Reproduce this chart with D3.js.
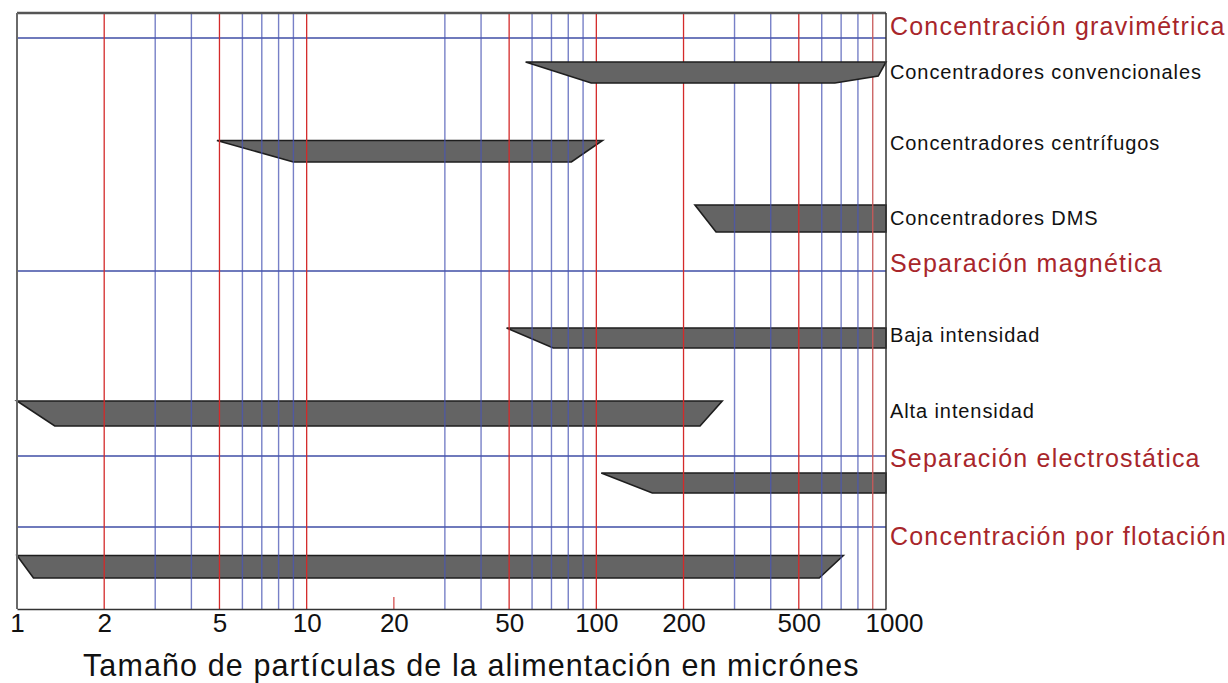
<!DOCTYPE html>
<html>
<head>
<meta charset="utf-8">
<script src="https://cdn.jsdelivr.net/npm/d3@7"></script>
<style>
  body { margin: 0; background: #fff; }
  svg { display: block; font-family: "Liberation Sans", Arial, sans-serif; }
</style>
</head>
<body>
<div id="chart"></div>
<script>
// axis values, in microns
const tickValues = [1, 2, 5, 10, 20, 50, 100, 200, 500, 1000];
const redLines = [2, 5, 10, 50, 100, 200, 500, 900];
const blueLines = [3, 4, 6, 7, 8, 9, 30, 40, 60, 70, 80, 90, 300, 400, 600, 700, 800];
const stubLines = [20];

// process groups (red headings)
const groupNames = [
  'Concentración gravimétrica',
  'Separación magnética',
  'Separación electrostática',
  'Concentración por flotación'
];

// equipment ranges: top edge and bottom edge of each band, in microns
const barNames = [
  'Concentradores convencionales',
  'Concentradores centrífugos',
  'Concentradores DMS',
  'Baja intensidad',
  'Alta intensidad',
  '',
  ''
];
const barTopFrom = [57, 4.9, 219, 49, 1, 104, 1];
const barTopTo = [1000, 105, 1000, 1000, 272, 1000, 712];
const barBottomFrom = [96, 9.0, 259, 71, 1.35, 156, 1.14];
const barBottomTo = [666, 82, 1000, 1000, 228, 1000, 588];
const barKnee = [940, null, null, null, null, null, null];

const xTitle = 'Tamaño de partículas de la alimentación en micrónes';

// layout
const width = 1228, height = 683;
const marginLeft = 17, marginRight = 342, marginTop = 13, marginBottom = 74;
const plotRight = width - marginRight, plotBottom = height - marginBottom;

// vertical layout in "slot" units (16 slots over the plot height)
const groupLineSlot = [0.671, 6.926, 11.893, 13.799];
const groupTextSlot = [0.59, 6.95, 12.19, 14.28];
const barTopSlot = [1.315, 3.423, 5.154, 8.456, 10.416, 12.349, 14.564];
const barBottomSlot = [1.879, 4.0, 5.879, 8.993, 11.087, 12.886, 15.168];
const labelSlot = [1.772, 3.678, 5.691, 8.832, 10.872, 0, 0];
const kneeFrac = 0.67;

const x = d3.scaleLog([1, 1000], [marginLeft, plotRight]);
const y = d3.scaleLinear([0, 16], [marginTop, plotBottom]);

const svg = d3.select('#chart')
  .append('svg')
  .attr('width', width)
  .attr('height', height);

const bars = barNames.map((name, i) => ({
  name,
  pts: [
    [x(barTopFrom[i]), y(barTopSlot[i])],
    [x(barTopTo[i]), y(barTopSlot[i])],
    ...(barKnee[i] ? [[x(barKnee[i]), y(barTopSlot[i] + (barBottomSlot[i] - barTopSlot[i]) * kneeFrac)]] : []),
    [x(barBottomTo[i]), y(barBottomSlot[i])],
    [x(barBottomFrom[i]), y(barBottomSlot[i])]
  ],
  label: labelSlot[i]
}));

const drawBars = (g, data) => g.selectAll('polygon')
  .data(data)
  .join('polygon')
  .attr('points', d => d.pts.map(p => p.join(',')).join(' '))
  .attr('fill', '#646464')
  .attr('stroke', '#1e1e1e')
  .attr('stroke-width', 1.6)
  .attr('stroke-linejoin', 'miter');

// bars under the grid
svg.append('g').call(drawBars, bars.slice(1));

// horizontal group separators
svg.append('g')
  .selectAll('line')
  .data(groupLineSlot)
  .join('line')
  .attr('x1', marginLeft)
  .attr('x2', plotRight)
  .attr('y1', d => y(d))
  .attr('y2', d => y(d))
  .attr('stroke', '#3f4ea6')
  .attr('stroke-width', 1.3);

// vertical grid
svg.append('g')
  .selectAll('line')
  .data(blueLines)
  .join('line')
  .attr('x1', d => x(d))
  .attr('x2', d => x(d))
  .attr('y1', marginTop)
  .attr('y2', plotBottom)
  .attr('stroke', '#4a55b4')
  .attr('stroke-opacity', 0.75)
  .attr('stroke-width', 1.4);

svg.append('g')
  .selectAll('line')
  .data(redLines)
  .join('line')
  .attr('x1', d => x(d))
  .attr('x2', d => x(d))
  .attr('y1', marginTop)
  .attr('y2', plotBottom)
  .attr('stroke', d => d === 900 ? '#c85a5a' : '#d42a2a')
  .attr('stroke-width', 1.3);

svg.append('g')
  .selectAll('line')
  .data(stubLines)
  .join('line')
  .attr('x1', d => x(d))
  .attr('x2', d => x(d))
  .attr('y1', plotBottom - 12)
  .attr('y2', plotBottom)
  .attr('stroke', '#d45050')
  .attr('stroke-width', 1.3);

// first bar sits above the grid
svg.append('g').call(drawBars, bars.slice(0, 1));

// frame
svg.append('line')
  .attr('x1', marginLeft).attr('x2', plotRight)
  .attr('y1', marginTop).attr('y2', marginTop)
  .attr('stroke', '#555').attr('stroke-width', 2.5);
svg.append('line')
  .attr('x1', marginLeft).attr('x2', marginLeft)
  .attr('y1', marginTop).attr('y2', plotBottom)
  .attr('stroke', '#6a6a6a').attr('stroke-width', 2);
svg.append('line')
  .attr('x1', plotRight).attr('x2', plotRight)
  .attr('y1', marginTop).attr('y2', plotBottom)
  .attr('stroke', '#333').attr('stroke-width', 1.5);

// x axis
const xAxis = d3.axisBottom(x)
  .tickValues(tickValues)
  .tickFormat(d3.format('d'))
  .tickSize(0)
  .tickPadding(4.5);

svg.append('g')
  .attr('transform', `translate(0,${plotBottom})`)
  .call(xAxis)
  .call(g => g.select('.domain').attr('stroke', '#333').attr('stroke-width', 1.6))
  .call(g => g.selectAll('.tick text')
    .attr('font-size', 26)
    .attr('font-family', '"Liberation Sans", Arial, sans-serif')
    .attr('fill', '#111')
    .attr('dx', d => d === 1000 ? 8 : 0));

svg.append('text')
  .attr('x', 83)
  .attr('y', 676)
  .attr('font-size', 30.5)
  .attr('letter-spacing', 1.1)
  .attr('fill', '#111')
  .text(xTitle);

// right-hand labels
svg.append('g')
  .selectAll('text')
  .data(groupNames)
  .join('text')
  .attr('x', plotRight + 4)
  .attr('y', (d, i) => y(groupTextSlot[i]))
  .attr('font-size', 25)
  .attr('letter-spacing', 1.2)
  .attr('fill', '#a8262b')
  .text(d => d);

svg.append('g')
  .selectAll('text')
  .data(bars.filter(d => d.name))
  .join('text')
  .attr('x', plotRight + 4)
  .attr('y', d => y(d.label))
  .attr('font-size', 20)
  .attr('letter-spacing', 0.9)
  .attr('fill', '#111')
  .text(d => d.name);
</script>
</body>
</html>
